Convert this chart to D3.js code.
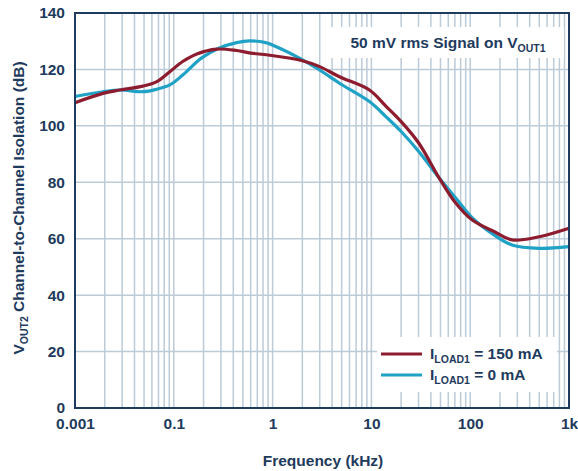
<!DOCTYPE html>
<html><head><meta charset="utf-8">
<script src="https://cdn.jsdelivr.net/npm/d3@7"></script>
<style>
body{margin:0;background:#fff;}
svg text{font-family:"Liberation Sans",Arial,sans-serif;font-weight:bold;fill:#1e3a5c;}
</style></head>
<body><svg id="c" width="578" height="471"></svg>
<script>
// Tick values (scale domain) and their labels as printed on the chart
const xTickValues = [0.01, 0.1, 1, 10, 100, 1000];
const xTickLabels = ["0.001", "0.1", "1", "10", "100", "1k"];
const yTickValues = [0, 20, 40, 60, 80, 100, 120, 140];

// I_LOAD1 = 150 mA
const freq150 = [0.01,0.0192,0.0285,0.0486,0.0674,0.0912,0.123,0.171,0.272,0.433,0.6,0.9,2.0,3.0,4.75,9.55,14,20,30,48.6,70,105,180,265,500,1000];
const iso150  = [108.2,111.5,112.7,114.1,115.7,119.2,122.8,125.5,127.2,126.7,125.8,125.1,123.1,121,117.4,112.7,107,101.5,94,81.5,73,66.6,62.3,59.6,60.7,63.7];
// I_LOAD1 = 0 mA
const freq0 = [0.01,0.0192,0.0285,0.0486,0.0674,0.0912,0.123,0.19,0.285,0.433,0.586,0.85,1.18,1.87,2.99,4.75,9.55,14,20,30,48.6,70,105,180,265,500,1000];
const iso0  = [110.4,112.1,112.7,112.1,113.0,114.5,118,124,127.5,129.5,130.1,129.5,127.5,124,119.8,115.1,108.6,103.3,98,91,81.5,74.8,67.4,61,57.8,56.6,57.2];

const seriesNames = ["150 mA", "0 mA"];
const colors = ["#8c1c2e", "#1fa2c6"];

const svg = d3.select("#c");
const L = 75, R = 569, T = 13, B = 408;
const x = d3.scaleLog().domain([0.01, 1000]).range([L, R]);
const y = d3.scaleLinear().domain([0, 140]).range([B, T]);
const grid = "#bccbd8", ink = "#1e3a5c";

// minor/major vertical gridlines
const vlines = [];
for (let d = -2; d < 3; d++) for (let k = 1; k < 10; k++) vlines.push(k * Math.pow(10, d));
vlines.push(1000);
svg.append("g").selectAll("line").data(vlines).join("line")
  .attr("x1", d => x(d)).attr("x2", d => x(d)).attr("y1", T).attr("y2", B)
  .attr("stroke", grid).attr("stroke-width", 1.5);
svg.append("g").selectAll("line").data(yTickValues).join("line")
  .attr("x1", L).attr("x2", R).attr("y1", d => y(d)).attr("y2", d => y(d))
  .attr("stroke", grid).attr("stroke-width", 1.5);

// title box
svg.append("rect").attr("x", 330).attr("y", 27).attr("width", 234).attr("height", 31).attr("fill", "#fff");
const t = svg.append("text").attr("x", 448).attr("y", 48).attr("text-anchor", "middle").style("font-size", "15.5px");
t.append("tspan").text("50 mV rms Signal on V");
t.append("tspan").attr("dy", 4).style("font-size", "10.5px").text("OUT1");

// legend box
svg.append("rect").attr("x", 377).attr("y", 337).attr("width", 180).attr("height", 55).attr("fill", "#fff");

// curves
const line = d3.line().x(d => x(d[0])).y(d => y(d[1])).curve(d3.curveCatmullRom.alpha(0.5));
const data = [d3.zip(freq150, iso150), d3.zip(freq0, iso0)];
[1, 0].forEach(i => {
  svg.append("path").datum(data[i]).attr("d", line).attr("fill", "none")
    .attr("stroke", colors[i]).attr("stroke-width", 3.2).attr("stroke-linejoin", "round");
});

// legend
seriesNames.forEach((n, i) => {
  const ly = 354 + i * 21;
  svg.append("line").attr("x1", 381).attr("x2", 422).attr("y1", ly).attr("y2", ly)
    .attr("stroke", colors[i]).attr("stroke-width", 3.2);
  const lt = svg.append("text").attr("x", 430).attr("y", ly + 5).style("font-size", "15.5px");
  lt.append("tspan").text("I");
  lt.append("tspan").attr("dy", 4).style("font-size", "10.5px").text("LOAD1");
  lt.append("tspan").attr("dy", -4).text(" = " + n);
});

// frame
svg.append("rect").attr("x", L).attr("y", T).attr("width", R - L).attr("height", B - T)
  .attr("fill", "none").attr("stroke", ink).attr("stroke-width", 2);

// axes labels via d3 axes
const xa = svg.append("g").attr("transform", `translate(0,${B})`)
  .call(d3.axisBottom(x).tickValues(xTickValues).tickFormat((d, i) => xTickLabels[i]).tickSize(0).tickPadding(10));
xa.select(".domain").remove();
xa.selectAll("text").style("font-size", "15.5px").attr("fill", ink);
const ya = svg.append("g").attr("transform", `translate(${L},0)`)
  .call(d3.axisLeft(y).tickValues(yTickValues).tickSize(0).tickPadding(10));
ya.select(".domain").remove();
ya.selectAll("text").style("font-size", "15.5px").attr("fill", ink);

svg.append("text").attr("x", 323).attr("y", 466).attr("text-anchor", "middle").style("font-size", "15.5px").text("Frequency (kHz)");
const yl = svg.append("text").attr("transform", "translate(24,208) rotate(-90)").attr("text-anchor", "middle").style("font-size", "15.5px");
yl.append("tspan").text("V");
yl.append("tspan").attr("dy", 4).style("font-size", "10.5px").text("OUT2");
yl.append("tspan").attr("dy", -4).text(" Channel-to-Channel Isolation (dB)");
</script></body></html>
